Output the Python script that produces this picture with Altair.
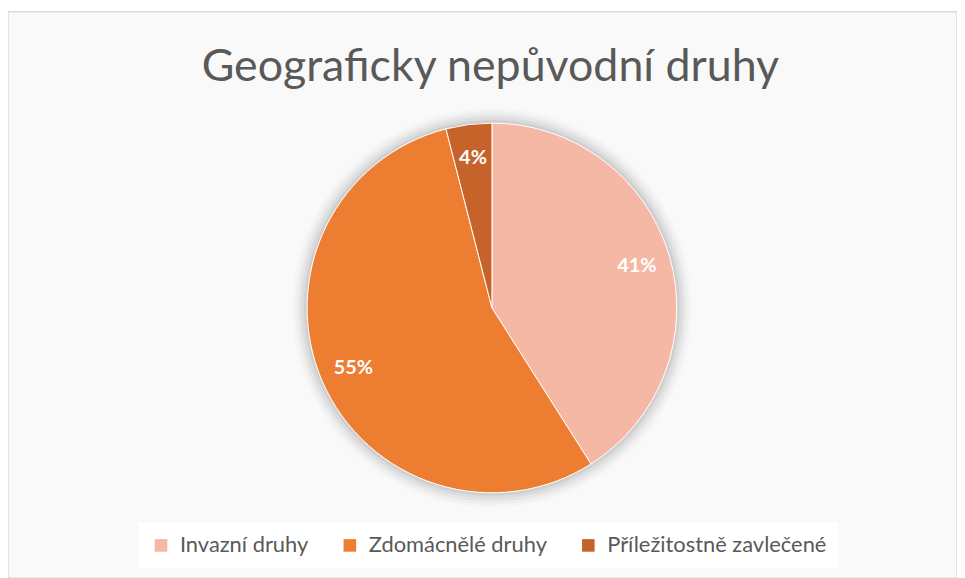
import altair as alt
import pandas as pd

categories = ["Invazní druhy", "Zdomácnělé druhy", "Příležitostně zavlečené"]
values = [41, 55, 4]
labels = ["41%", "55%", "4%"]
colors = ["#F4B8A4", "#ED7D31", "#C5632A"]

df = pd.DataFrame({"cat": categories, "value": values, "label": labels,
                   "idx": list(range(len(categories)))})
shadow_df = pd.DataFrame({"v": [1]})

CX, CY, R = 487, 298, 186

shadow_layers = []
for r, op in [(201, 0.015), (198, 0.025), (195, 0.035), (192, 0.045), (189, 0.06)]:
    shadow_layers.append(
        alt.Chart(shadow_df).mark_arc(radius=r, theta=0, theta2=6.2832,
                                      color="#000000", opacity=op)
        .encode(x=alt.value(CX), y=alt.value(CY))
    )

pie = alt.Chart(df).mark_arc(radius=R, stroke="#FFFFFF", strokeWidth=1).encode(
    theta=alt.Theta("value:Q", stack=True),
    order=alt.Order("idx:Q"),
    color=alt.Color("cat:N", scale=alt.Scale(domain=categories, range=colors),
                    sort=categories,
                    legend=alt.Legend(title=None, orient="none", direction="horizontal",
                                      legendX=131, legendY=514,
                                      fillColor="#FFFFFF", padding=12,
                                      symbolType="square", symbolSize=160,
                                      symbolStrokeWidth=0, labelFont="Lato",
                                      labelFontSize=22, labelColor="#595959",
                                      labelLimit=400,
                                      labelOffset=8, columnPadding=30)),
    x=alt.value(CX), y=alt.value(CY),
)

text = alt.Chart(df).mark_text(radius=152, font="Lato", fontSize=20, fontWeight="bold",
                               color="#FFFFFF").encode(
    theta=alt.Theta("value:Q", stack=True),
    order=alt.Order("idx:Q"),
    detail="cat:N",
    text="label:N",
    x=alt.value(CX), y=alt.value(CY),
)

chart = alt.layer(*shadow_layers, pie, text).properties(
    width=955, height=570,
    autosize=alt.AutoSizeParams(type="none"),
    padding={"left": 0, "top": 2, "right": 0, "bottom": 0},
    title=alt.TitleParams("Geograficky nepůvodní druhy", font="Lato", fontSize=45,
                          fontWeight="normal", color="#595959", anchor="middle",
                          offset=-79, dx=8),
).configure_view(stroke="#D9D9D9", strokeWidth=1.5, fill="#F9F9F9")

chart.save("out.html", embed_options={"renderer": "svg", "actions": False})
